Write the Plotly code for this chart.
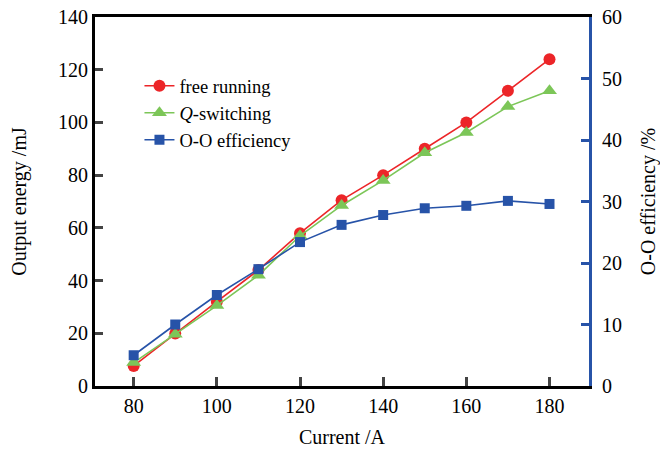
import plotly.graph_objects as go

current = [80, 90, 100, 110, 120, 130, 140, 150, 160, 170, 180]
free_running = [7.6, 19.9, 32.0, 44.0, 58.0, 70.5, 80.0, 90.0, 100.0, 112.0, 124.0]
q_switching = [8.9, 19.6, 30.5, 42.0, 57.0, 68.5, 78.0, 88.5, 96.2, 106.0, 112.0]
oo_efficiency = [5.0, 10.0, 14.8, 19.0, 23.4, 26.2, 27.8, 28.9, 29.3, 30.1, 29.6]

x_ticks = [80, 100, 120, 140, 160, 180]
y_ticks = [0, 20, 40, 60, 80, 100, 120, 140]
y2_ticks = [0, 10, 20, 30, 40, 50, 60]

RED = "#ec2528"
GREEN = "#7cc658"
BLUE = "#2753a8"
FONT = "Liberation Serif"
FS = 20

fig = go.Figure()
fig.add_trace(go.Scatter(x=current, y=free_running, name="free running", mode="lines+markers",
                         line=dict(color=RED, width=1.6),
                         marker=dict(symbol="circle", size=12, color=RED)))
fig.add_trace(go.Scatter(x=current, y=q_switching, name="<i>Q</i>-switching", mode="lines+markers",
                         line=dict(color=GREEN, width=1.6),
                         marker=dict(symbol="triangle-up", size=13, color=GREEN)))
fig.add_trace(go.Scatter(x=current, y=oo_efficiency, name="O-O efficiency", mode="lines+markers",
                         line=dict(color=BLUE, width=1.6),
                         marker=dict(symbol="square", size=10, color=BLUE),
                         yaxis="y2"))

fig.update_layout(
    width=660, height=449,
    margin=dict(l=94.5, r=70.5, t=16.5, b=62.5, autoexpand=False),
    paper_bgcolor="white", plot_bgcolor="white",
    font=dict(family=FONT, size=FS, color="black"),
    showlegend=True,
    legend=dict(x=0.09, y=0.864, xanchor="left", yanchor="top",
                bgcolor="rgba(0,0,0,0)", font=dict(family=FONT, size=18.5),
                tracegroupgap=0),
    xaxis=dict(range=[70.7, 189.5], tickvals=x_ticks, ticks="inside", ticklen=9, tickwidth=3,
               showline=True, linewidth=3, linecolor="black", mirror=True,
               showgrid=False, zeroline=False, automargin=False, ticklabeloverflow="allow",
               title=dict(text="Current /A", standoff=14, font=dict(size=FS))),
    yaxis=dict(range=[0, 140], tickvals=y_ticks, ticks="inside", ticklen=8, tickwidth=3,
               showline=True, linewidth=3, linecolor="black",
               showgrid=False, zeroline=False, automargin=False, ticklabeloverflow="allow",
               title=dict(text="Output energy /mJ", standoff=27, font=dict(size=FS))),
    yaxis2=dict(range=[0, 60], tickvals=y2_ticks, ticks="inside", ticklen=8, tickwidth=3,
                tickcolor=BLUE, overlaying="y", side="right", ticklabelstandoff=6,
                showline=True, linewidth=3, linecolor=BLUE,
                showgrid=False, zeroline=False, automargin=False, ticklabeloverflow="allow",
                title=dict(text="O-O efficiency /%", standoff=22, font=dict(size=FS))),
)

# remove the page's default 8px body margin so the figure fills the window exactly
fig.write_html("out.html", config={"displayModeBar": False},
               post_script="document.body.style.margin='0';")
